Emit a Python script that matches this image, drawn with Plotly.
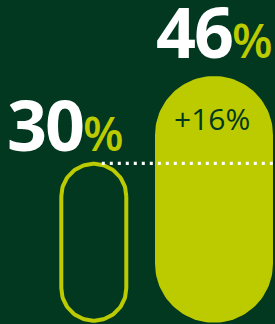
import numpy as np
import plotly.graph_objects as go

# ---- data ----
categories = ["Before", "After"]
values = [30, 46]
value_labels = ["30", "46"]
diff_label = "+16%"

# ---- style ----
BG = "#01381f"
LIME = "#bccb00"
W, H = 275, 324
PX_X = 120.2          # pixels per category step
X0_PX = 93.8          # pixel position of first category
BOTTOM_PX = 322.7     # pixel position of value 0
PX_Y = (BOTTOM_PX - 76.0) / 46.0   # pixels per value unit

x_range = [-X0_PX / PX_X, (W - X0_PX) / PX_X]
y_range = [-(H - BOTTOM_PX) / PX_Y, BOTTOM_PX / PX_Y]

HALF_W = [34.5, 59.0]   # outer half widths in px
OUTLINE_W = 4
LABEL_XSHIFT = [-2, 2]
LABEL_YSHIFT = [-12, -5]


def pill(xc, y_bot, y_top, half_w_px, inset_px=0.0, n=60):
    r = half_w_px - inset_px
    top_c = y_top - (inset_px + r) / PX_Y
    bot_c = y_bot + (inset_px + r) / PX_Y
    a1 = np.linspace(0, np.pi, n)
    a2 = np.linspace(np.pi, 2 * np.pi, n)
    xs = np.concatenate([xc + r * np.cos(a1) / PX_X, xc + r * np.cos(a2) / PX_X, [xc + r / PX_X]])
    ys = np.concatenate([top_c + r * np.sin(a1) / PX_Y, bot_c + r * np.sin(a2) / PX_Y, [top_c]])
    return xs, ys


fig = go.Figure()

# filled pill (second category)
xs, ys = pill(1, 0, values[1], HALF_W[1])
fig.add_trace(go.Scatter(x=xs, y=ys, mode="lines", fill="toself", fillcolor=LIME,
                         line=dict(width=0, color=LIME), hoverinfo="skip", showlegend=False))

# outlined pill (first category)
xs, ys = pill(0, 0, values[0], HALF_W[0], inset_px=OUTLINE_W / 2)
fig.add_trace(go.Scatter(x=xs, y=ys, mode="lines",
                         line=dict(width=OUTLINE_W, color=LIME), hoverinfo="skip", showlegend=False))

# dotted reference line at the first value
y_line = values[0] - 1.5 / PX_Y
fig.add_trace(go.Scatter(x=[0 + 8 / PX_X, 1 + HALF_W[1] / PX_X], y=[y_line, y_line], mode="lines",
                         line=dict(width=3.3, color="white", dash="3px,5px"),
                         hoverinfo="skip", showlegend=False))

annotations = []
for i, (v, lab) in enumerate(zip(values, value_labels)):
    annotations.append(dict(
        x=i + HALF_W[i] / PX_X, y=v, xref="x", yref="y",
        xanchor="right", yanchor="bottom", showarrow=False,
        text=(f"<b><span style='letter-spacing:-2px'>{lab}</span></b>"
              f"<span style='font-size:47px;color:{LIME};font-weight:600'>%</span>"),
        font=dict(family="Open Sans", size=70, color="white"),
        xshift=LABEL_XSHIFT[i], yshift=LABEL_YSHIFT[i],
    ))
annotations.append(dict(
    x=1, y=values[1], xref="x", yref="y", xanchor="center", yanchor="middle",
    showarrow=False, text=diff_label, yshift=-42, xshift=-2,
    font=dict(family="Open Sans", size=30, color=BG),
))

fig.update_layout(
    width=W, height=H, margin=dict(l=0, r=0, t=0, b=0),
    paper_bgcolor=BG, plot_bgcolor=BG,
    xaxis=dict(range=x_range, visible=False, fixedrange=True),
    yaxis=dict(range=y_range, visible=False, fixedrange=True),
    annotations=annotations, showlegend=False,
)

fig.write_html("out.html", config={"displayModeBar": False},
               post_script="document.body.style.margin='0';document.body.style.overflow='hidden';")
